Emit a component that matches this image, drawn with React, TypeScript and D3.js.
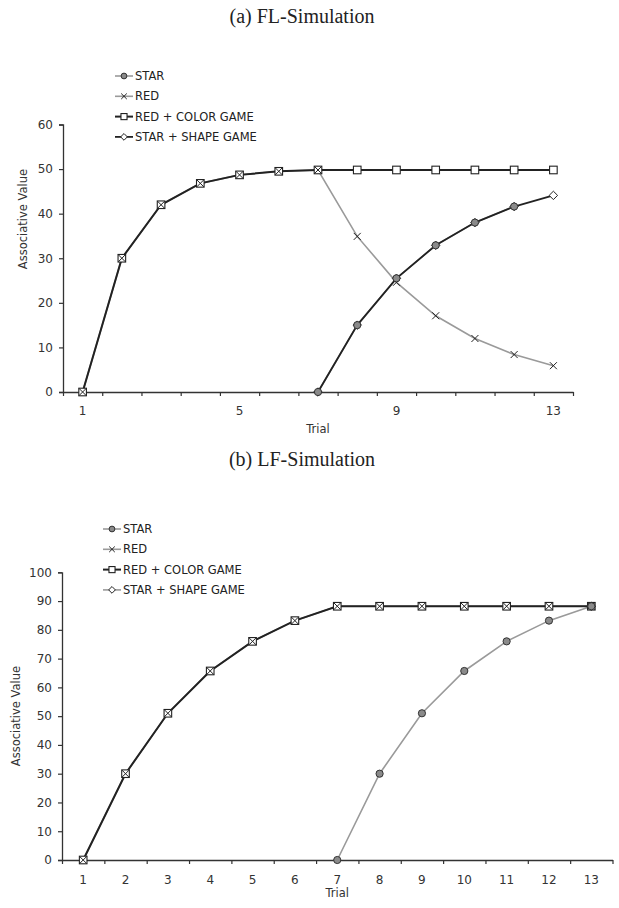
import React, { useEffect, useRef } from 'react';
import * as d3 from 'd3';

// trials on the x axis
const trials = [1, 2, 3, 4, 5, 6, 7, 8, 9, 10, 11, 12, 13];
const flTrialLabels = [1, 5, 9, 13];
const lfTrialLabels = [1, 2, 3, 4, 5, 6, 7, 8, 9, 10, 11, 12, 13];
const flYTicks = [0, 10, 20, 30, 40, 50, 60];
const lfYTicks = [0, 10, 20, 30, 40, 50, 60, 70, 80, 90, 100];

const seriesNames = ['STAR', 'RED', 'RED + COLOR GAME', 'STAR + SHAPE GAME'];

// (a) FL-Simulation
const flStar = [null, null, null, null, null, null, 0, 15, 25.5, 32.9, 38.0, 41.6, null];
const flRed = [0, 30, 42, 46.8, 48.7, 49.5, 49.8, 34.9, 24.6, 17.1, 12.0, 8.4, 5.9];
const flRedColor = [0, 30, 42, 46.8, 48.7, 49.5, 49.8, 49.8, 49.8, 49.8, 49.8, 49.8, 49.8];
const flStarShape = [null, null, null, null, null, null, 0, 15, 25.5, 32.9, 38.0, 41.6, 44.1];

// (b) LF-Simulation
const lfStar = [null, null, null, null, null, null, 0, 30, 51, 65.7, 76, 83.2, 88.2];
const lfRed = [0, 30, 51, 65.7, 76, 83.2, 88.2, 88.2, 88.2, 88.2, 88.2, 88.2, 88.2];
const lfRedColor = [0, 30, 51, 65.7, 76, 83.2, 88.2, 88.2, 88.2, 88.2, 88.2, 88.2, 88.2];
const lfStarShape = [null, null, null, null, null, null, null, null, null, null, null, null, 88.2];

const FONT = '"DejaVu Sans", Verdana, sans-serif';
const BLACK = '#222';
const GREY = '#9a9a9a';

function drawMarker(g, type, x, y, k = 1) {
  if (type === 'circle') {
    g.append('circle').attr('cx', x).attr('cy', y).attr('r', 3.6 * k)
      .attr('fill', '#8a8a8a').attr('stroke', '#333').attr('stroke-width', 1);
  } else if (type === 'x') {
    const s = 3.5 * k;
    g.append('path')
      .attr('d', `M${x - s},${y - s}L${x + s},${y + s}M${x - s},${y + s}L${x + s},${y - s}`)
      .attr('stroke', BLACK).attr('stroke-width', 1).attr('fill', 'none');
  } else if (type === 'square') {
    const s = 3.8 * k;
    g.append('rect').attr('x', x - s).attr('y', y - s).attr('width', 2 * s).attr('height', 2 * s)
      .attr('fill', 'white').attr('stroke', BLACK).attr('stroke-width', 1.1);
  } else if (type === 'diamond') {
    const s = 4.2 * k;
    g.append('path').attr('d', `M${x},${y - s}L${x + s},${y}L${x},${y + s}L${x - s},${y}Z`)
      .attr('fill', 'white').attr('stroke', BLACK).attr('stroke-width', 1);
  }
}

function drawChart(root, cfg) {
  const { title, titleY, left, right, top, bottom, yMax, yTicks, xLabels, series, legendX, legendY, yTitleX, yTitleY, xLabelY, xTitleY } = cfg;
  const x = d3.scaleLinear().domain([0.5, 13.5]).range([left, right]);
  const y = d3.scaleLinear().domain([0, yMax]).range([bottom, top]);
  const g = root.append('g');

  g.append('text').attr('x', 302).attr('y', titleY).attr('text-anchor', 'middle')
    .attr('font-family', '"Liberation Serif", "Times New Roman", serif').attr('font-size', 20)
    .attr('fill', '#222').text(title);

  // y axis
  const yAxis = g.append('g').attr('transform', `translate(${left},0)`)
    .call(d3.axisLeft(y).tickValues(yTicks).tickSize(4).tickPadding(6).tickFormat(d3.format('d')));
  yAxis.select('.domain').attr('stroke', '#333').attr('stroke-width', 1.3);
  yAxis.selectAll('.tick line').attr('stroke', '#333').attr('stroke-width', 1.2);
  yAxis.selectAll('text').attr('font-family', FONT).attr('font-size', 12).attr('fill', '#333');

  // x axis: marks between categories, labels on categories
  const bounds = d3.range(0, 14).map(i => i + 0.5);
  const xAxis = g.append('g').attr('transform', `translate(0,${bottom})`)
    .call(d3.axisBottom(x).tickValues(bounds).tickSize(4).tickFormat(() => '').tickSizeOuter(0));
  xAxis.select('.domain').attr('stroke', '#333').attr('stroke-width', 1.3);
  xAxis.selectAll('.tick line').attr('stroke', '#333').attr('stroke-width', 1.2);
  g.selectAll('.xl').data(xLabels).enter().append('text')
    .attr('x', d => x(d)).attr('y', xLabelY).attr('text-anchor', 'middle')
    .attr('font-family', FONT).attr('font-size', 12).attr('fill', '#333').text(d => d);

  g.append('text').attr('x', (left + right) / 2).attr('y', xTitleY).attr('text-anchor', 'middle')
    .attr('font-family', FONT).attr('font-size', 11.5).attr('fill', '#333').text('Trial');
  g.append('text').attr('transform', `translate(${yTitleX},${yTitleY}) rotate(-90)`).attr('text-anchor', 'middle')
    .attr('font-family', FONT).attr('font-size', 11.5).attr('fill', '#333').text('Associative Value');

  // lines
  const line = d3.line().defined(d => d[1] != null).x(d => x(d[0])).y(d => y(d[1]));
  series.forEach(s => {
    g.append('path').datum(trials.map((t, i) => [t, s.values[i]]))
      .attr('d', line).attr('fill', 'none').attr('stroke', s.color).attr('stroke-width', s.width);
  });

  // markers
  const order = ['diamond', 'square', 'x', 'circle'];
  order.forEach(type => {
    series.filter(s => s.marker === type).forEach(s => {
      trials.forEach((t, i) => {
        if (s.values[i] != null) drawMarker(g, type, x(t), y(s.values[i]));
      });
    });
  });

  // legend
  series.forEach((s, i) => {
    const ly = legendY + i * 20.3;
    g.append('line').attr('x1', legendX).attr('x2', legendX + 18).attr('y1', ly).attr('y2', ly)
      .attr('stroke', s.color).attr('stroke-width', s.width);
    drawMarker(g, s.marker, legendX + 9, ly, 0.8);
    g.append('text').attr('x', legendX + 20).attr('y', ly).attr('dy', '0.35em')
      .attr('font-family', FONT).attr('font-size', 11.5).attr('fill', '#222').text(seriesNames[i]);
  });
}

export default function App() {
  const ref = useRef(null);
  useEffect(() => {
    const svg = d3.select(ref.current);
    svg.selectAll('*').remove();
    drawChart(svg, {
      title: '(a) FL-Simulation', titleY: 23,
      left: 63, right: 573, top: 124.5, bottom: 392, yMax: 60, yTicks: flYTicks,
      xLabels: flTrialLabels, xLabelY: 415, xTitleY: 433,
      yTitleX: 27, yTitleY: 219, legendX: 115, legendY: 76,
      series: [
        { values: flStar, color: GREY, width: 1.6, marker: 'circle' },
        { values: flRed, color: GREY, width: 1.6, marker: 'x' },
        { values: flRedColor, color: BLACK, width: 2, marker: 'square' },
        { values: flStarShape, color: BLACK, width: 1.8, marker: 'diamond' },
      ],
    });
    drawChart(svg, {
      title: '(b) LF-Simulation', titleY: 466,
      left: 62, right: 612.5, top: 572.3, bottom: 860, yMax: 100, yTicks: lfYTicks,
      xLabels: lfTrialLabels, xLabelY: 884, xTitleY: 897,
      yTitleX: 20, yTitleY: 716, legendX: 103, legendY: 529,
      series: [
        { values: lfStar, color: GREY, width: 1.6, marker: 'circle' },
        { values: lfRed, color: GREY, width: 1.6, marker: 'x' },
        { values: lfRedColor, color: BLACK, width: 2, marker: 'square' },
        { values: lfStarShape, color: GREY, width: 1.6, marker: 'diamond' },
      ],
    });
  }, []);
  return (
    <div style={{ position: 'absolute', left: 0, top: 0 }}>
      <svg ref={ref} width={619} height={908} style={{ display: 'block', background: 'white' }} />
    </div>
  );
}
